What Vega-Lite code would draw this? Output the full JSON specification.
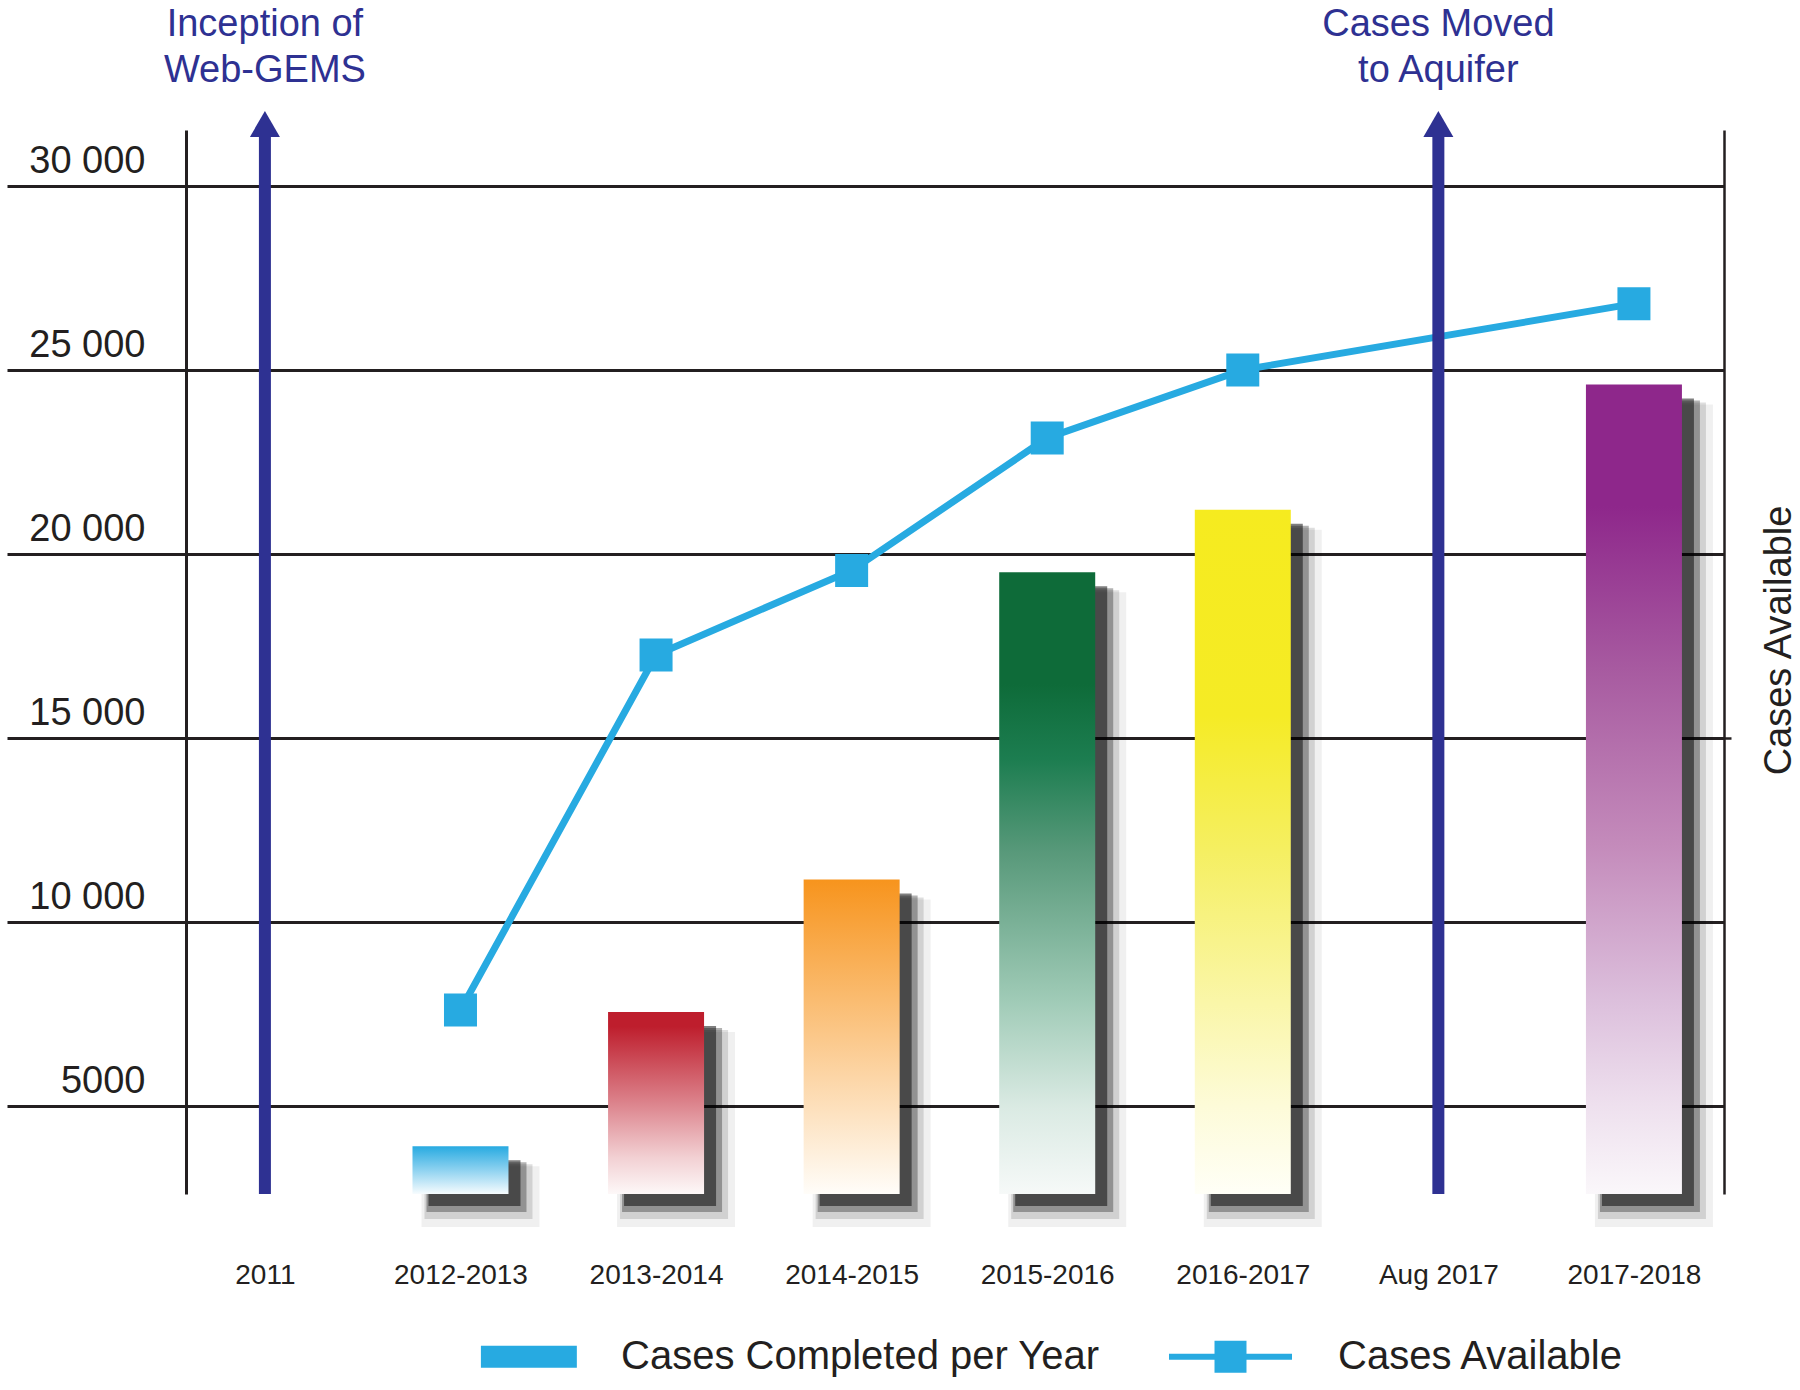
{
  "$schema": "https://vega.github.io/schema/vega-lite/v6.json",
  "width": 1538,
  "height": 1064,
  "autosize": {"type": "none"},
  "padding": {"left": 186, "top": 130, "right": 76, "bottom": 196},
  "background": "white",
  "config": {
    "view": {"stroke": null},
    "font": "Liberation Sans",
    "axisX": {"title": null, "domain": false, "ticks": false, "tickSize": 0, "grid": false, "labelFontSize": 28, "labelColor": "#231F20", "labelAngle": 0, "labelPadding": 67, "labelFont": "Liberation Sans"}
  },
  "datasets": {
    "periods": [
      {"period": "2012-2013", "completed": 3900, "available": 7600},
      {"period": "2013-2014", "completed": 7550, "available": 17250},
      {"period": "2014-2015", "completed": 11150, "available": 19550},
      {"period": "2015-2016", "completed": 19500, "available": 23150},
      {"period": "2016-2017", "completed": 21200, "available": 25000},
      {"period": "2017-2018", "completed": 24600, "available": 26800}
    ],
    "events": [
      {"period": "2011", "event": ["Inception of", "Web-GEMS"]},
      {"period": "Aug 2017", "event": ["Cases Moved", "to Aquifer"]}
    ]
  },
  "layer": [
    {
      "data": {"name": "periods"},
      "mark": {"type": "bar", "width": 118, "color": "#000000", "opacity": 0.06, "xOffset": 20, "yOffset": 20, "y2Offset": 33},
      "encoding": {
        "x": {
          "field": "period", "type": "nominal", "title": null,
          "scale": {"type": "point", "domain": ["2011", "2012-2013", "2013-2014", "2014-2015", "2015-2016", "2016-2017", "Aug 2017", "2017-2018"], "padding": 0.432, "align": 0.467}
        },
        "y": {
          "field": "completed", "type": "quantitative",
          "scale": {"domain": [2600, 31520], "zero": false, "nice": false},
          "axis": {
            "orient": "left", "title": null, "values": [5000, 10000, 15000, 20000, 25000, 30000],
            "grid": true, "gridColor": "#231F20", "gridWidth": 3, "gridOpacity": 1,
            "domainColor": "#231F20", "domainWidth": 3, "domainOpacity": 1,
            "tickColor": "#231F20", "tickWidth": 3, "tickSize": 179, "tickOpacity": 1,
            "labelFontSize": 38, "labelColor": "#231F20", "labelFont": "Liberation Sans",
            "labelPadding": -138, "labelAlign": "right", "labelBaseline": "alphabetic", "labelOffset": -13,
            "labelExpr": "datum.value >= 10000 ? replace(format(datum.value, ','), ',', ' ') : format(datum.value, 'd')"
          }
        },
        "y2": {"datum": 2600}
      }
    },
    {
      "data": {"name": "periods"},
      "mark": {"type": "bar", "width": 108, "color": "#000000", "opacity": 0.13, "xOffset": 18, "yOffset": 18, "y2Offset": 25},
      "encoding": {
        "x": {"field": "period", "type": "nominal", "title": null},
        "y": {"field": "completed", "type": "quantitative", "axis": null},
        "y2": {"datum": 2600}
      }
    },
    {
      "data": {"name": "periods"},
      "mark": {"type": "bar", "width": 100, "color": "#000000", "opacity": 0.3, "xOffset": 16, "yOffset": 16, "y2Offset": 18},
      "encoding": {
        "x": {"field": "period", "type": "nominal", "title": null},
        "y": {"field": "completed", "type": "quantitative", "axis": null},
        "y2": {"datum": 2600}
      }
    },
    {
      "data": {"name": "periods"},
      "mark": {"type": "bar", "width": 92, "color": "#000000", "opacity": 0.5, "xOffset": 14, "yOffset": 14, "y2Offset": 12},
      "encoding": {
        "x": {"field": "period", "type": "nominal", "title": null},
        "y": {"field": "completed", "type": "quantitative", "axis": null},
        "y2": {"datum": 2600}
      }
    },
    {
      "data": {"name": "periods"},
      "transform": [{"filter": "datum.period === '2012-2013'"}],
      "mark": {"type": "bar", "width": 96, "color": {"gradient": "linear", "x1": 0, "y1": 0, "x2": 0, "y2": 1, "stops": [{"offset": 0, "color": "#27AAE1"}, {"offset": 0.5, "color": "#8ED2F0"}, {"offset": 1, "color": "#F7FCFE"}]}},
      "encoding": {
        "x": {"field": "period", "type": "nominal", "title": null},
        "y": {"field": "completed", "type": "quantitative", "axis": null},
        "y2": {"datum": 2600}
      }
    },
    {
      "data": {"name": "periods"},
      "transform": [{"filter": "datum.period === '2013-2014'"}],
      "mark": {"type": "bar", "width": 96, "color": {"gradient": "linear", "x1": 0, "y1": 0, "x2": 0, "y2": 1, "stops": [{"offset": 0, "color": "#BE1E2D"}, {"offset": 0.08, "color": "#BE1E2D"}, {"offset": 0.5, "color": "#DC838C"}, {"offset": 0.8, "color": "#F2D0D3"}, {"offset": 1, "color": "#FDF8F8"}]}},
      "encoding": {
        "x": {"field": "period", "type": "nominal", "title": null},
        "y": {"field": "completed", "type": "quantitative", "axis": null},
        "y2": {"datum": 2600}
      }
    },
    {
      "data": {"name": "periods"},
      "transform": [{"filter": "datum.period === '2014-2015'"}],
      "mark": {"type": "bar", "width": 96, "color": {"gradient": "linear", "x1": 0, "y1": 0, "x2": 0, "y2": 1, "stops": [{"offset": 0, "color": "#F7941D"}, {"offset": 0.5, "color": "#FBC88A"}, {"offset": 1, "color": "#FFFDF9"}]}},
      "encoding": {
        "x": {"field": "period", "type": "nominal", "title": null},
        "y": {"field": "completed", "type": "quantitative", "axis": null},
        "y2": {"datum": 2600}
      }
    },
    {
      "data": {"name": "periods"},
      "transform": [{"filter": "datum.period === '2015-2016'"}],
      "mark": {"type": "bar", "width": 96, "color": {"gradient": "linear", "x1": 0, "y1": 0, "x2": 0, "y2": 1, "stops": [{"offset": 0, "color": "#0E6B39"}, {"offset": 0.18, "color": "#0E6B39"}, {"offset": 0.3, "color": "#1C7D50"}, {"offset": 0.45, "color": "#58997A"}, {"offset": 0.69, "color": "#A0CBB7"}, {"offset": 0.86, "color": "#DAEAE3"}, {"offset": 1, "color": "#F6F9F8"}]}},
      "encoding": {
        "x": {"field": "period", "type": "nominal", "title": null},
        "y": {"field": "completed", "type": "quantitative", "axis": null},
        "y2": {"datum": 2600}
      }
    },
    {
      "data": {"name": "periods"},
      "transform": [{"filter": "datum.period === '2016-2017'"}],
      "mark": {"type": "bar", "width": 96, "color": {"gradient": "linear", "x1": 0, "y1": 0, "x2": 0, "y2": 1, "stops": [{"offset": 0, "color": "#F6EB1F"}, {"offset": 0.3, "color": "#F5EB25"}, {"offset": 0.5, "color": "#F5EF62"}, {"offset": 0.72, "color": "#FAF6A8"}, {"offset": 0.87, "color": "#FDFBD8"}, {"offset": 1, "color": "#FFFFF7"}]}},
      "encoding": {
        "x": {"field": "period", "type": "nominal", "title": null},
        "y": {"field": "completed", "type": "quantitative", "axis": null},
        "y2": {"datum": 2600}
      }
    },
    {
      "data": {"name": "periods"},
      "transform": [{"filter": "datum.period === '2017-2018'"}],
      "mark": {"type": "bar", "width": 96, "color": {"gradient": "linear", "x1": 0, "y1": 0, "x2": 0, "y2": 1, "stops": [{"offset": 0, "color": "#8E278B"}, {"offset": 0.15, "color": "#8E278B"}, {"offset": 0.35, "color": "#A75AA0"}, {"offset": 0.57, "color": "#C48BBB"}, {"offset": 0.76, "color": "#DCBFDC"}, {"offset": 0.89, "color": "#EEE0EE"}, {"offset": 1, "color": "#FAF7FA"}]}},
      "encoding": {
        "x": {"field": "period", "type": "nominal", "title": null},
        "y": {"field": "completed", "type": "quantitative", "axis": null},
        "y2": {"datum": 2600}
      }
    },
    {
      "data": {"name": "periods"},
      "mark": {"type": "line", "strokeWidth": 7, "point": {"shape": "square", "size": 1089, "filled": true, "opacity": 1}},
      "encoding": {
        "x": {"field": "period", "type": "nominal", "title": null},
        "y": {
          "field": "available", "type": "quantitative",
          "axis": {
            "orient": "right", "values": [15000], "labels": false, "grid": false,
            "domainColor": "#231F20", "domainWidth": 2.5, "domainOpacity": 1,
            "tickColor": "#231F20", "tickWidth": 2.5, "tickSize": 7,
            "title": "Cases Available", "titleFontSize": 38, "titleFont": "Liberation Sans", "titleFontWeight": "normal",
            "titleColor": "#231F20", "titleAngle": 270, "titleBaseline": "top", "titlePadding": 28, "titleY": 510
          }
        },
        "color": {
          "datum": "Cases Available", "type": "nominal",
          "scale": {"domain": ["Cases Completed per Year", "Cases Available"], "range": ["#27AAE1", "#27AAE1"]},
          "legend": {
            "orient": "none", "legendX": 266, "legendY": 1165, "direction": "horizontal", "title": null,
            "padding": 0, "labelFontSize": 40, "labelFont": "Liberation Sans", "labelColor": "#231F20",
            "labelOffset": 46, "columnPadding": 69, "labelLimit": 800, "symbolSize": 15129,
            "encode": {
              "symbols": {
                "update": {
                  "shape": {"signal": "datum.value === 'Cases Available' ? 'M-1,-0.05H-0.26V-0.26H0.26V-0.05H1V0.05H0.26V0.26H-0.26V0.05H-1Z' : 'M-0.53,-0.18H1.03V0.18H-0.53Z'"},
                  "fill": [
                    {"test": "datum.value === 'Cases Available'", "value": "#27AAE1"},
                    {"value": {"gradient": "linear", "x1": 0, "y1": 0, "x2": 0, "y2": 1, "stops": [{"offset": 0, "color": "#27AAE1"}, {"offset": 0.5, "color": "#8ED2F0"}, {"offset": 1, "color": "#F7FCFE"}]}}
                  ],
                  "stroke": {"value": "transparent"},
                  "strokeWidth": {"value": 0},
                  "opacity": {"value": 1}
                }
              }
            }
          }
        }
      }
    },
    {
      "data": {"name": "events"},
      "mark": {"type": "rule", "strokeWidth": 12, "color": "#2E3192"},
      "encoding": {
        "x": {"field": "period", "type": "nominal", "title": null},
        "y": {"datum": 2600, "type": "quantitative", "axis": null},
        "y2": {"datum": 31340}
      }
    },
    {
      "data": {"name": "events"},
      "mark": {"type": "point", "shape": "triangle-up", "size": 900, "filled": true, "opacity": 1, "color": "#2E3192"},
      "encoding": {
        "x": {"field": "period", "type": "nominal", "title": null},
        "y": {"datum": 31685, "type": "quantitative", "axis": null}
      }
    },
    {
      "data": {"name": "events"},
      "mark": {"type": "text", "fontSize": 38, "lineHeight": 46, "color": "#2E3192", "align": "center", "baseline": "middle", "font": "Liberation Sans"},
      "encoding": {
        "x": {"field": "period", "type": "nominal", "title": null},
        "y": {"datum": 34370, "type": "quantitative", "axis": null},
        "text": {"field": "event"}
      }
    }
  ],
  "resolve": {"axis": {"y": "independent"}}
}
